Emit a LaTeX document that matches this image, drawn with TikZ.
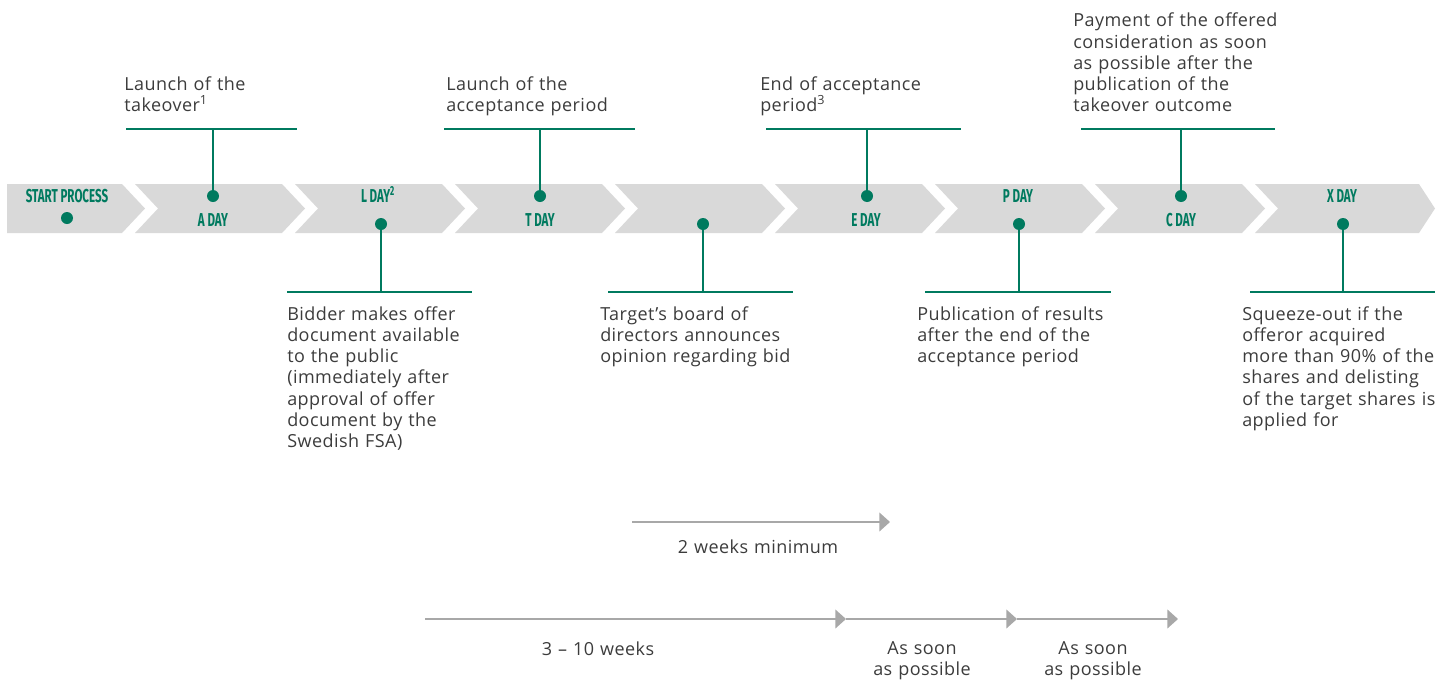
\documentclass[tikz,border=0pt]{standalone}
\usepackage{fontspec}
\setmainfont[LetterSpace=2.5]{Open Sans}
\newfontfamily\dayfont[FakeStretch=0.62]{Fira Sans}
\usepackage{xcolor}
\usepackage{tikz}
\usetikzlibrary{arrows.meta}
\definecolor{bidgreen}{RGB}{0,122,95}
\definecolor{chevgray}{RGB}{217,217,217}
\definecolor{spangray}{RGB}{168,168,168}
\definecolor{notegray}{RGB}{60,60,60}

\begin{document}
\begin{tikzpicture}[x=0.75pt,y=-0.75pt,
dot/.style={circle,fill=bidgreen,inner sep=0pt,minimum size=9pt},
tie/.style={bidgreen,line width=1.5pt},
day/.style={text=bidgreen,font=\dayfont\bfseries\fontsize{14}{14}\selectfont,inner sep=0pt,anchor=base},
note/.style={text=notegray,font=\fontsize{13.5}{15.9}\selectfont,inner sep=0pt,text width=175pt,align=left,
  execute at begin node=\strut,execute at end node=\strut},
mid/.style={note,text width=140pt,align=center,anchor=north},
span/.style={spangray,line width=1.5pt,-{Triangle[length=8pt,width=14pt]}}]
\useasboundingbox (0,0) rectangle (1452,682);
\fill[chevgray](7,184)--(122,184)--(145,208.5)--(122,233)--(7,233)--cycle
(135,184)--(282,184)--(305,208.5)--(282,233)--(135,233)--(158,208.5)--cycle
(295,184)--(442,184)--(465,208.5)--(442,233)--(295,233)--(318,208.5)--cycle
(455,184)--(602,184)--(625,208.5)--(602,233)--(455,233)--(478,208.5)--cycle
(615,184)--(762,184)--(785,208.5)--(762,233)--(615,233)--(638,208.5)--cycle
(775,184)--(922,184)--(945,208.5)--(922,233)--(775,233)--(798,208.5)--cycle
(935,184)--(1082,184)--(1105,208.5)--(1082,233)--(935,233)--(958,208.5)--cycle
(1095,184)--(1242,184)--(1265,208.5)--(1242,233)--(1095,233)--(1118,208.5)--cycle
(1255,184)--(1419,184)--(1435,208.5)--(1419,233)--(1255,233)--(1278,208.5)--cycle;
\node[day] (start) at (67,202) {START PROCESS};
\node[day] (aday) at (213,226) {A DAY};
\node[day] (lday) at (378,202) {L DAY\textsuperscript{2}};
\node[day] (tday) at (540,226) {T DAY};
\node[day] (eday) at (866,226) {E DAY};
\node[day] (pday) at (1018,202) {P DAY};
\node[day] (cday) at (1181,226) {C DAY};
\node[day] (xday) at (1342,202) {X DAY};
\node[dot] (sdot) at (67,218) {};
\node[dot] (adot) at (213,196) {};
\node[dot] (ldot) at (381,224) {};
\node[dot] (tdot) at (540,196) {};
\node[dot] (bdot) at (703,224) {};
\node[dot] (edot) at (867,196) {};
\node[dot] (pdot) at (1019,224) {};
\node[dot] (cdot) at (1181,196) {};
\node[dot] (xdot) at (1343,224) {};
\coordinate (abar) at (213,128.5);
\coordinate (tbar) at (540,128.5);
\coordinate (ebar) at (867,128.5);
\coordinate (cbar) at (1181,128.5);
\coordinate (lbar) at (381,292);
\coordinate (bbar) at (703,292);
\coordinate (pbar) at (1019,292);
\coordinate (xbar) at (1343,292);
\draw[tie](adot)--(abar) (tdot)--(tbar) (edot)--(ebar) (cdot)--(cbar);
\draw[tie](ldot)--(lbar) (bdot)--(bbar) (pdot)--(pbar) (xdot)--(xbar);
\draw[tie](126,128.5)--(297,128.5)
(444,128.5)--(635,128.5)
(766,128.5)--(961,128.5)
(1081,128.5)--(1275,128.5)
(287,292)--(472,292)
(608,292)--(793,292)
(925,292)--(1111,292)
(1250,292)--(1435,292);
\node[note,anchor=south west] (atext) at (124,118.4) {Launch of the\\takeover\smash{\textsuperscript{1}}};
\node[note,anchor=south west] (ttext) at (446,118.4) {Launch of the\\acceptance period};
\node[note,anchor=south west] (etext) at (760,118.4) {End of acceptance\\period\smash{\textsuperscript{3}}};
\node[note,anchor=south west] (ctext) at (1073,118.4) {Payment of the offered\\consideration as soon\\as possible after the\\publication of the\\takeover outcome};
\node[note,anchor=north west] (ltext) at (287,305.2) {Bidder makes offer\\document available\\to the public\\(immediately after\\approval of offer\\document by the\\Swedish FSA)};
\node[note,anchor=north west] (btext) at (600,305.2) {Target's board of\\directors announces\\opinion regarding bid};
\node[note,anchor=north west] (ptext) at (917,305.2) {Publication of results\\after the end of the\\acceptance period};
\node[note,anchor=north west] (xtext) at (1242,305.2) {Squeeze-out if the\\offeror acquired\\more than 90\% of the\\shares and delisting\\of the target shares is\\applied for};
\coordinate (wa) at (632,522);
\coordinate (wb) at (890,522);
\coordinate (ra) at (425,619);
\coordinate (rb) at (846,619);
\coordinate (rc) at (1017,619);
\coordinate (rd) at (1178,619);
\draw[span](wa)--(wb);
\draw[span](ra)--(rb);
\draw[span](rb)--(rc);
\draw[span](rc)--(rd);
\node[mid] (wlabel) at (758,538.2) {2 weeks minimum};
\node[mid] (rlabel) at (598,640.2) {3 -- 10 weeks};
\node[mid] (slabel) at (922,639.2) {As soon\\as possible};
\node[mid] (qlabel) at (1093,639.2) {As soon\\as possible};
\end{tikzpicture}
\end{document}
